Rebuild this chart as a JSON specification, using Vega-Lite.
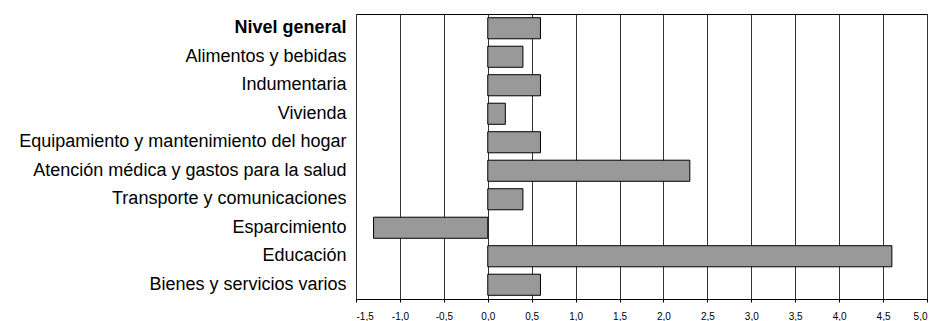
{
  "$schema": "https://vega.github.io/schema/vega-lite/v6.json",
  "autosize": {"type": "none"},
  "width": 571,
  "height": 285,
  "padding": {"left": 356, "top": 14, "right": 9, "bottom": 22},
  "background": "white",
  "config": {
    "font": "Liberation Sans",
    "view": {"stroke": "#000000", "strokeWidth": 1}
  },
  "data": {
    "values": [
      {"categoria": "Nivel general", "valor": 0.6},
      {"categoria": "Alimentos y bebidas", "valor": 0.4},
      {"categoria": "Indumentaria", "valor": 0.6},
      {"categoria": "Vivienda", "valor": 0.2},
      {"categoria": "Equipamiento y mantenimiento del hogar", "valor": 0.6},
      {"categoria": "Atención médica y gastos para la salud", "valor": 2.3},
      {"categoria": "Transporte y comunicaciones", "valor": 0.4},
      {"categoria": "Esparcimiento", "valor": -1.3},
      {"categoria": "Educación", "valor": 4.6},
      {"categoria": "Bienes y servicios varios", "valor": 0.6}
    ]
  },
  "mark": {"type": "bar", "color": "#999999", "stroke": "#000000", "strokeWidth": 1},
  "encoding": {
    "y": {
      "field": "categoria",
      "type": "nominal",
      "sort": null,
      "scale": {"paddingInner": 0.26, "paddingOuter": 0.13},
      "axis": {
        "title": null,
        "ticks": false,
        "grid": false,
        "domain": false,
        "labelFontSize": 18,
        "labelColor": "#000000",
        "labelPadding": 10,
        "labelLimit": 400,
        "labelFontWeight": {"condition": {"test": "datum.value == 'Nivel general'", "value": "bold"}, "value": "normal"}
      }
    },
    "x": {
      "field": "valor",
      "type": "quantitative",
      "scale": {"domain": [-1.5, 5.0], "nice": false, "zero": false},
      "axis": {
        "title": null,
        "values": [-1.5, -1.0, -0.5, 0, 0.5, 1.0, 1.5, 2.0, 2.5, 3.0, 3.5, 4.0, 4.5, 5.0],
        "labelExpr": "replace(replace(format(datum.value, '.1f'), '.', ','), '\u2212', '-')",
        "labelFontSize": 10,
        "labelColor": "#000000",
        "labelPadding": 9,
        "tickSize": 3,
        "tickColor": "#000000",
        "domainColor": "#000000",
        "grid": true,
        "gridColor": "#333333",
        "gridWidth": 1,
        "gridOpacity": 1
      }
    }
  }
}
